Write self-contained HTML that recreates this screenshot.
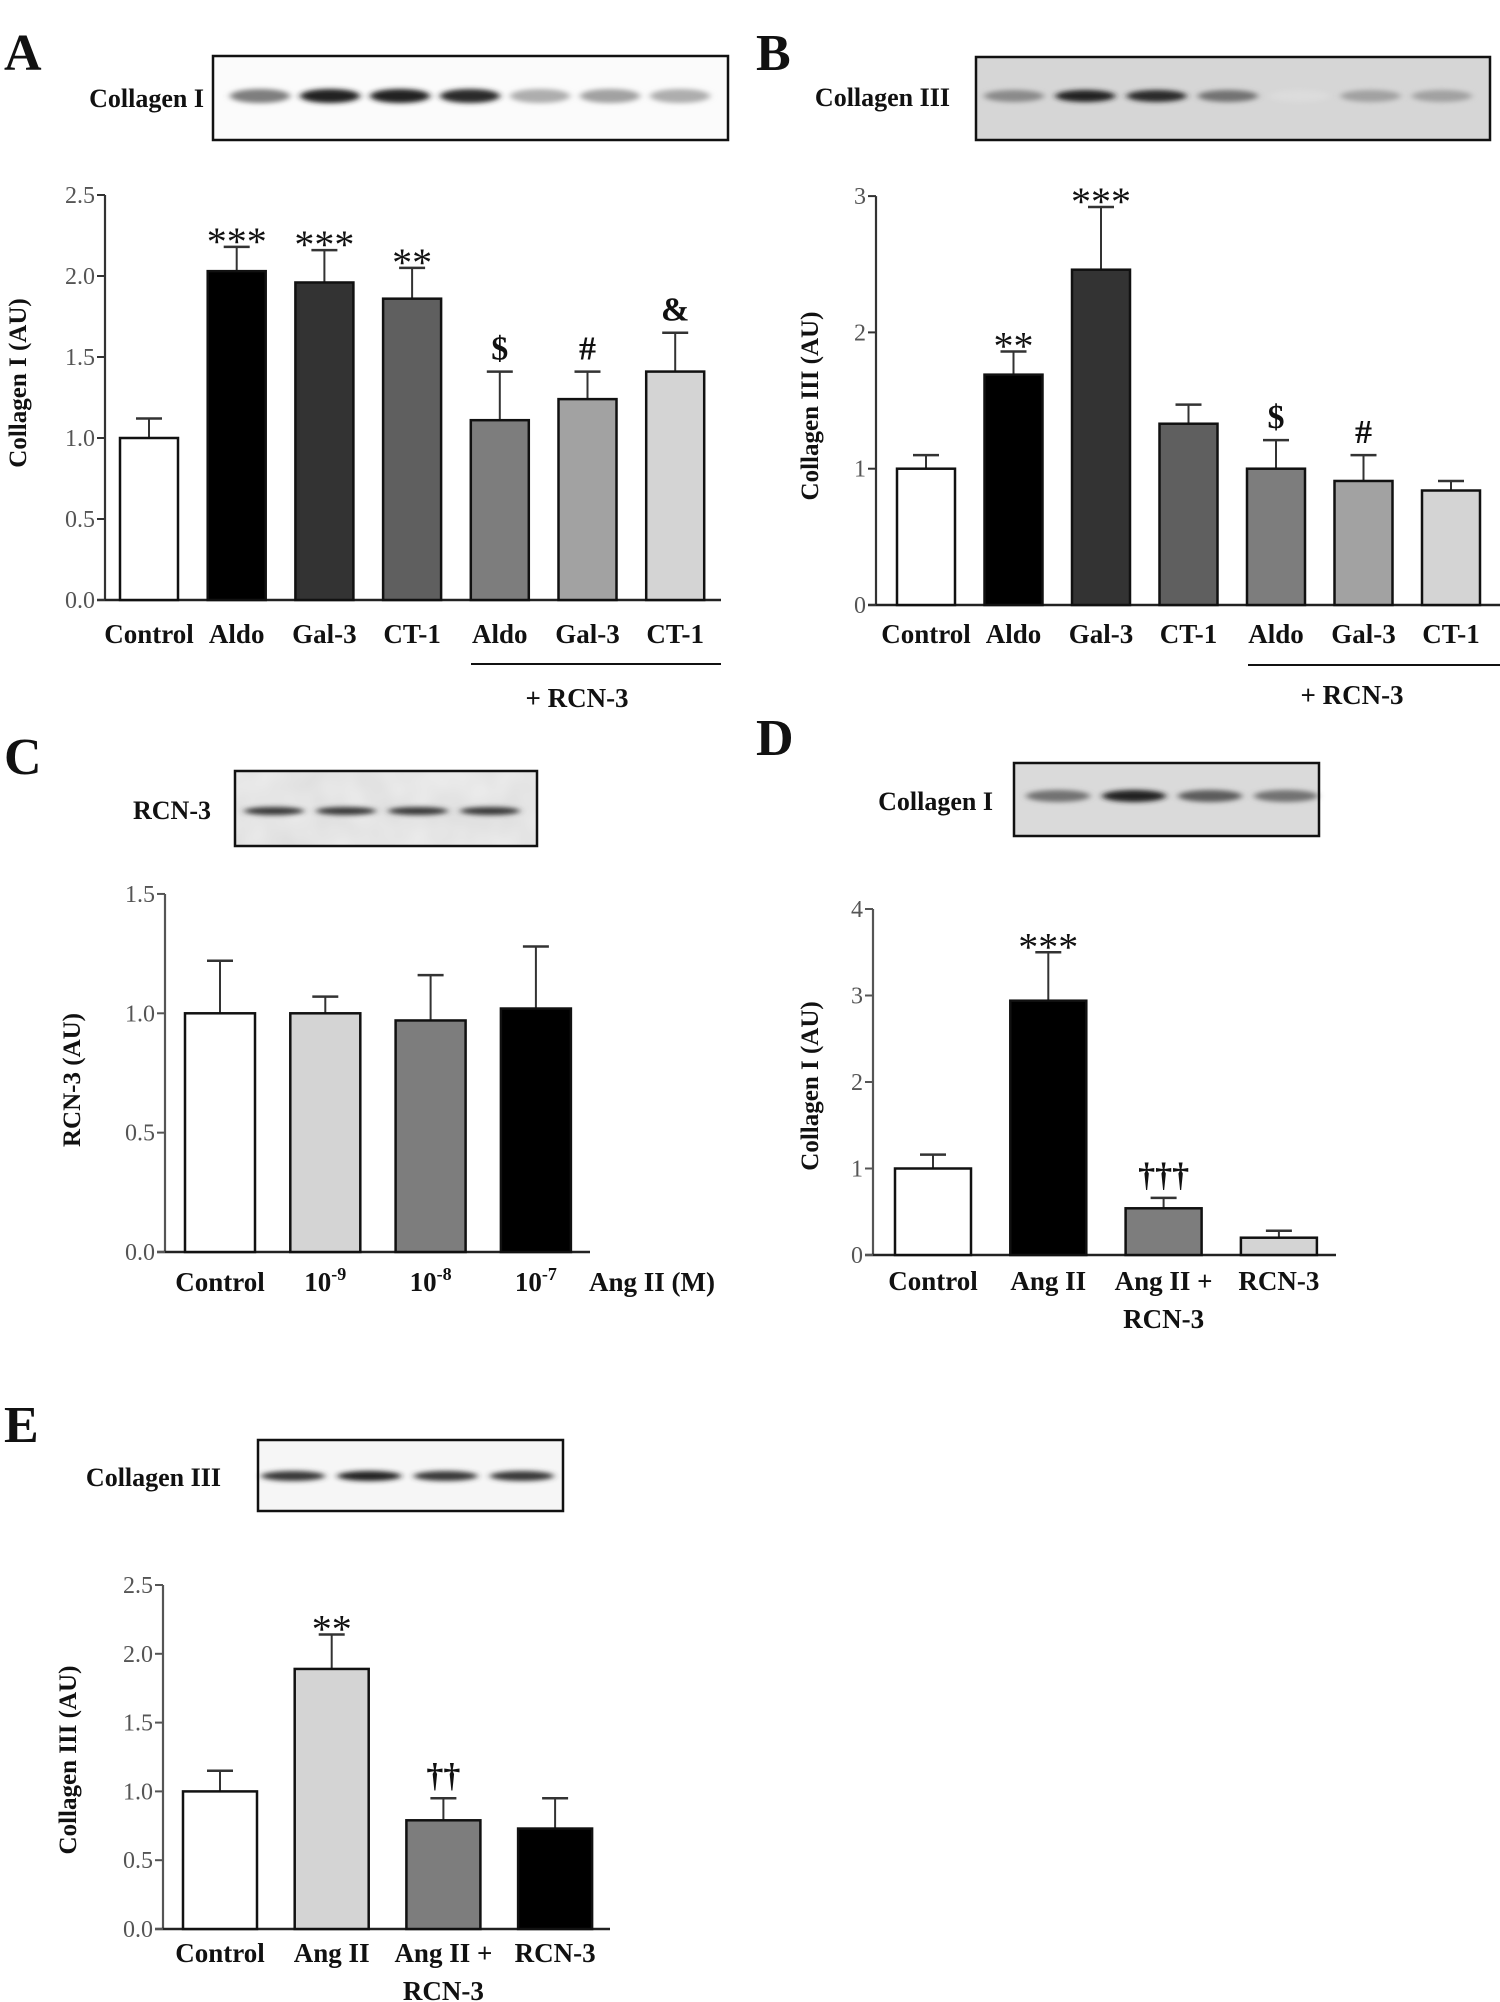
<!DOCTYPE html>
<html><head><meta charset="utf-8">
<style>
html,body{margin:0;padding:0;background:#fff;}
svg{display:block;}
text{font-family:"Liberation Serif",serif;}
.tick{font-size:24px;fill:#555;}
.cat{font-size:27px;font-weight:bold;fill:#111;}
.ytitle{font-size:25px;font-weight:bold;fill:#111;}
.plab{font-size:52px;font-weight:bold;fill:#111;}
.blab{font-size:26px;font-weight:bold;fill:#111;}
.mark{fill:#111;}
</style></head>
<body>
<svg id="fig" width="1500" height="2002" viewBox="0 0 1500 2002" xmlns="http://www.w3.org/2000/svg">
<defs>
<filter id="blur" x="-30%" y="-100%" width="160%" height="300%"><feGaussianBlur stdDeviation="3.5 2.5"/></filter>
<filter id="noise" x="0" y="0" width="100%" height="100%"><feTurbulence type="fractalNoise" baseFrequency="0.03" numOctaves="2" seed="3"/><feColorMatrix type="matrix" values="0 0 0 0 0.5  0 0 0 0 0.5  0 0 0 0 0.5  0 0 0 0.35 0"/></filter>
</defs>
<g id="static">
<text class="plab" x="4" y="70">A</text>
<text class="plab" x="756" y="70">B</text>
<text class="plab" x="4" y="774">C</text>
<text class="plab" x="756" y="755">D</text>
<text class="plab" x="4" y="1442">E</text>
</g>
</svg>
<script>
// ---------- data ----------
const aCats = ["Control","Aldo","Gal-3","CT-1","Aldo","Gal-3","CT-1"];
const aValues = [1.00,2.03,1.96,1.86,1.11,1.24,1.41];
const aErrors = [0.12,0.15,0.20,0.19,0.30,0.17,0.24];
const aMarks = ["","***","***","**","$","#","&"];
const aTicks = ["0.0","0.5","1.0","1.5","2.0","2.5"];
const aBands = [0.55,0.95,0.95,0.9,0.35,0.4,0.35];

const bCats = ["Control","Aldo","Gal-3","CT-1","Aldo","Gal-3","CT-1"];
const bValues = [1.00,1.69,2.46,1.33,1.00,0.91,0.84];
const bErrors = [0.10,0.17,0.46,0.14,0.21,0.19,0.07];
const bMarks = ["","**","***","","$","#",""];
const bTicks = ["0","1","2","3"];
const bBands = [0.5,0.95,0.9,0.6,0.15,0.4,0.4];

const cCats = ["Control","10|-9","10|-8","10|-7"];
const cValues = [1.00,1.00,0.97,1.02];
const cErrors = [0.22,0.07,0.19,0.26];
const cMarks = ["","","",""];
const cTicks = ["0.0","0.5","1.0","1.5"];
const cBands = [0.85,0.85,0.85,0.85];

const dCats = ["Control","Ang II","Ang II +|RCN-3","RCN-3"];
const dValues = [1.00,2.94,0.54,0.20];
const dErrors = [0.16,0.56,0.12,0.08];
const dMarks = ["","***","†††",""];
const dTicks = ["0","1","2","3","4"];
const dBands = [0.6,0.95,0.7,0.6];

const eCats = ["Control","Ang II","Ang II +|RCN-3","RCN-3"];
const eValues = [1.00,1.89,0.79,0.73];
const eErrors = [0.15,0.25,0.16,0.22];
const eMarks = ["","**","††",""];
const eTicks = ["0.0","0.5","1.0","1.5","2.0","2.5"];
const eBands = [0.85,0.95,0.85,0.85];

const NS = "http://www.w3.org/2000/svg";
const svg = document.getElementById('fig');
function mk(tag, attrs, parent){
  const el = document.createElementNS(NS, tag);
  for (const k in attrs) el.setAttribute(k, attrs[k]);
  (parent||svg).appendChild(el);
  return el;
}

function panel(p, cats, values, errors, marks, ticks, colors){
  const g = mk('g', {});
  
  
  const yScale = v => p.zero - v * p.perUnit;
  const xScale = i => p.first + i * p.step;
  const top = yScale(parseFloat(ticks[ticks.length-1]));
  const ax = mk('line', {x1:p.ax, y1:top, x2:p.ax, y2:p.zero, stroke:p.axisColor, 'stroke-width':2.2}, g);
  
  
  const xa = mk('line', {x1:p.ax-8, y1:p.zero, x2:p.right, y2:p.zero, stroke:'#222', 'stroke-width':2.5}, g);
  
  
  ticks.forEach(t => {
    const y = yScale(parseFloat(t));
    mk('line', {x1:p.ax-8, y1:y, x2:p.ax, y2:y, stroke:p.axisColor, 'stroke-width':2}, g);
    const tx = mk('text', {x:p.ax-10, y:y+8, 'text-anchor':'end', class:'tick'}, g);
    tx.textContent = t;
    
    
  });
  values.forEach((v, i) => {
    const cx = xScale(i);
    const yt = yScale(v), ye = yScale(v + errors[i]);
    const el = mk('line', {x1:cx, y1:yt, x2:cx, y2:ye, stroke:'#333', 'stroke-width':2}, g);
    
    
    mk('line', {x1:cx-13, y1:ye, x2:cx+13, y2:ye, stroke:'#333', 'stroke-width':2.5}, g);
    const r = mk('rect', {x:cx-p.bw/2, y:yt, width:p.bw, height:p.zero-yt, fill:colors[i], stroke:'#111', 'stroke-width':2.5}, g);
    
    
    if (marks[i]) {
      const star = marks[i].indexOf('*') >= 0;
      const m = mk('text', {x:cx, y: star ? ye+8 : ye-12, 'text-anchor':'middle', class:'mark',
        style: star ? 'font-size:40px' : 'font-size:34px;font-weight:bold'}, g);
      m.textContent = marks[i];
      
      
    }
    const parts = cats[i].split('|');
    const lab = mk('text', {x:cx, y:p.labY, 'text-anchor':'middle', class:'cat'}, g);
    
    
    if (p.sup && parts.length > 1) {
      lab.textContent = parts[0];
      const s = mk('tspan', {dy:-11, style:'font-size:18px'}, lab);
      s.textContent = parts[1];
    } else {
      lab.textContent = parts[0];
      if (parts.length > 1) {
        const l2 = mk('text', {x:cx, y:p.labY+38, 'text-anchor':'middle', class:'cat'}, g);
        l2.textContent = parts[1];
        
        
      }
    }
  });
  const yt = mk('text', {x:p.titleX, y:p.titleY, 'text-anchor':'middle', class:'ytitle',
    transform:'rotate(-90 '+p.titleX+' '+p.titleY+')'}, g);
  yt.textContent = p.title;
  
  
}

function blot(b, bands){
  const g = mk('g', {});
  
  
  mk('rect', {x:b.x, y:b.y, width:b.w, height:b.h, fill:b.bg}, g);
  if (b.noise) mk('rect', {x:b.x, y:b.y, width:b.w, height:b.h, filter:'url(#noise)'}, g);
  bands.forEach((d, i) => {
    const cx = b.first + i * b.step;
    const c = Math.round(255 - d * 235);
    const e = mk('ellipse', {cx:cx, cy:b.cy, rx:b.rx, ry:b.ry, fill:'rgb('+c+','+c+','+c+')', filter:'url(#blur)'}, g);
    
    
  });
  mk('rect', {x:b.x, y:b.y, width:b.w, height:b.h, fill:'none', stroke:'#111', 'stroke-width':2.5}, g);
  const t = mk('text', {x:b.labX, y:b.labY, 'text-anchor':'end', class:'blab'}, g);
  t.textContent = b.label;
  
  
}

const grey = {w:'#fff',k:'#000',d:'#333',m:'#5f5f5f',g:'#7d7d7d',l:'#a2a2a2',p:'#d4d4d4'};

blot({name:'panel-a', x:213, y:56, w:515, h:84, bg:'#fbfbfb', first:260, step:70, cy:96, rx:30, ry:7, label:'Collagen I', labX:204, labY:107}, aBands);
panel({name:'panel-a', ax:105, right:721, zero:600, perUnit:162, first:149, step:87.7, bw:58, labY:643, title:'Collagen I (AU)', titleX:26, titleY:383, axisColor:'#333'},
  aCats, aValues, aErrors, aMarks, aTicks, [grey.w,grey.k,grey.d,grey.m,grey.g,grey.l,grey.p]);
blot({name:'panel-b', x:976, y:57, w:514, h:83, bg:'#d6d6d6', first:1014, step:71.3, cy:96, rx:30, ry:6, label:'Collagen III', labX:950, labY:106}, bBands);
panel({name:'panel-b', ax:876, right:1500, zero:605, perUnit:136.3, first:926, step:87.5, bw:58, labY:643, title:'Collagen III (AU)', titleX:818, titleY:406, axisColor:'#333'},
  bCats, bValues, bErrors, bMarks, bTicks, [grey.w,grey.k,grey.d,grey.m,grey.g,grey.l,grey.p]);
blot({name:'panel-c', x:235, y:771, w:302, h:75, bg:'#eeeeee', noise:true, first:274, step:72, cy:811, rx:30, ry:4, label:'RCN-3', labX:211, labY:819}, cBands);
panel({name:'panel-c', ax:165, right:590, zero:1252, perUnit:238.7, first:220, step:105.3, bw:70, labY:1291, sup:true, title:'RCN-3 (AU)', titleX:80, titleY:1080, axisColor:'#555'},
  cCats, cValues, cErrors, cMarks, cTicks, [grey.w,grey.p,grey.g,grey.k]);
blot({name:'panel-d', x:1014, y:763, w:305, h:73, bg:'#dadada', first:1058, step:76, cy:796, rx:32, ry:6, label:'Collagen I', labX:993, labY:810}, dBands);
panel({name:'panel-d', ax:873, right:1336, zero:1255, perUnit:86.5, first:933, step:115.3, bw:76, labY:1290, title:'Collagen I (AU)', titleX:818, titleY:1086, axisColor:'#555'},
  dCats, dValues, dErrors, dMarks, dTicks, [grey.w,grey.k,grey.g,grey.p]);
blot({name:'panel-e', x:258, y:1440, w:305, h:71, bg:'#f6f6f6', first:293, step:76.3, cy:1476, rx:32, ry:5, label:'Collagen III', labX:221, labY:1486}, eBands);
panel({name:'panel-e', ax:163, right:610, zero:1929, perUnit:137.6, first:220, step:111.7, bw:74, labY:1962, title:'Collagen III (AU)', titleX:76, titleY:1760, axisColor:'#555'},
  eCats, eValues, eErrors, eMarks, eTicks, [grey.w,grey.p,grey.g,grey.k]);

function extraLine(x1,x2,y,name){
  const l = mk('line', {x1:x1, y1:y, x2:x2, y2:y, stroke:'#111', 'stroke-width':2});
  
  
}
function extraText(x,y,txt,name){
  const t = mk('text', {x:x, y:y, 'text-anchor':'middle', class:'cat'});
  t.textContent = txt;
  
  
}
extraLine(471, 721, 664, 'panel-a-rcn3-bracket');
extraText(577, 707, '+ RCN-3', 'panel-a-rcn3-label');
extraLine(1248, 1500, 665, 'panel-b-rcn3-bracket');
extraText(1352, 704, '+ RCN-3', 'panel-b-rcn3-label');
extraText(652, 1291, 'Ang II  (M)', 'panel-c-x-axis-title');
</script>
</body></html>
